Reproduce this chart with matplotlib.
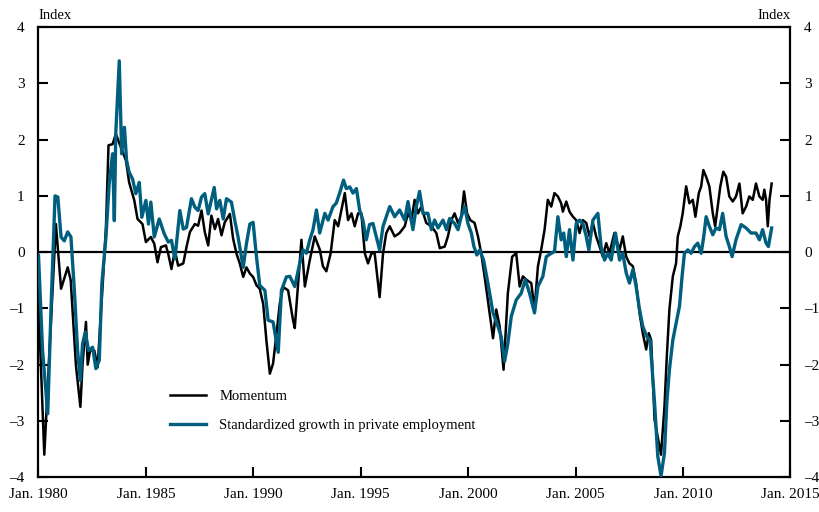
import matplotlib
matplotlib.use("Agg")
import matplotlib.pyplot as plt

# Momentum index (dates as fractional years)
mom_dates = [1980.0, 1980.27, 1980.81, 1981.05, 1981.36, 1981.5, 1981.74, 1981.95, 1982.05,
             1982.21, 1982.29, 1982.4, 1982.6, 1982.75, 1983.0, 1983.14, 1983.26, 1983.45,
             1983.6, 1983.84, 1984.07, 1984.22, 1984.46, 1984.61, 1984.84, 1985.0, 1985.23,
             1985.39, 1985.54, 1985.7, 1985.93,
             1986.04, 1986.19, 1986.35, 1986.5, 1986.74, 1986.89, 1987.05, 1987.28, 1987.43,
             1987.59, 1987.74, 1987.9, 1988.05, 1988.21, 1988.36, 1988.52, 1988.67, 1988.91,
             1989.06, 1989.22, 1989.37, 1989.53, 1989.68, 1989.84, 1989.99, 1990.15, 1990.3,
             1990.46, 1990.61, 1990.77, 1990.92, 1991.08, 1991.23, 1991.39, 1991.62, 1991.85,
             1991.93, 1992.24, 1992.4, 1992.63, 1992.86, 1993.1, 1993.24, 1993.4, 1993.6,
             1993.79, 1993.95, 1994.1, 1994.26, 1994.41, 1994.57, 1994.72, 1994.88, 1995.03,
             1995.19, 1995.34, 1995.5, 1995.65, 1995.88,
             1996.04, 1996.19, 1996.35, 1996.58, 1996.81, 1997.05, 1997.2, 1997.36, 1997.51,
             1997.67, 1997.82, 1998.05, 1998.29, 1998.52, 1998.68, 1998.91, 1999.06, 1999.22,
             1999.37, 1999.53, 1999.68, 1999.81, 1999.95, 2000.1, 2000.3, 2000.46, 2000.61,
             2000.81, 2001.0, 2001.16, 2001.31, 2001.47, 2001.65, 2001.85, 2002.05, 2002.24,
             2002.4, 2002.55, 2002.71, 2002.94, 2003.09, 2003.25, 2003.4, 2003.56, 2003.71,
             2003.87, 2004.02, 2004.18, 2004.33,
             2004.41, 2004.57, 2004.72, 2004.88, 2005.03, 2005.19, 2005.34, 2005.5, 2005.65,
             2005.81, 2005.96, 2006.12, 2006.27, 2006.43, 2006.58, 2006.81, 2007.05, 2007.2,
             2007.36, 2007.51, 2007.67, 2007.82, 2007.98, 2008.13, 2008.29, 2008.41, 2008.52,
             2008.68, 2008.91, 2008.98, 2009.14, 2009.25, 2009.37, 2009.53, 2009.68, 2009.76,
             2009.88, 2009.99, 2010.15, 2010.3, 2010.46, 2010.58, 2010.74, 2010.85, 2010.95,
             2011.08, 2011.23, 2011.39, 2011.5, 2011.62, 2011.74, 2011.88, 2012.01, 2012.16,
             2012.32, 2012.47, 2012.63, 2012.78, 2012.94, 2013.09, 2013.25, 2013.4, 2013.56,
             2013.71, 2013.79, 2013.87, 2013.95, 2014.03, 2014.13]
mom_values = [-0.9, -3.6, 0.5, -0.65, -0.27, -0.5, -2.0, -2.75, -2.0,
              -1.24, -2.0, -1.75, -1.75, -2.05, -0.5, 0.44, 1.9, 1.92,
              2.1, 1.86, 1.63, 1.24, 0.92, 0.59, 0.5, 0.18, 0.27,
              0.15, -0.18, 0.09, 0.12,
              -0.03, -0.3, 0.03, -0.24, -0.2, 0.09, 0.36, 0.5, 0.47,
              0.74, 0.36, 0.12, 0.65, 0.41, 0.59, 0.3, 0.53, 0.68,
              0.24, -0.03, -0.2, -0.44, -0.27, -0.38, -0.44, -0.59, -0.65,
              -0.92, -1.57, -2.16, -1.98, -1.45, -0.92, -0.62, -0.68, -1.21,
              -1.35, 0.22, -0.61, -0.14, 0.28, 0.04, -0.25, -0.34, -0.02,
              0.57, 0.46, 0.75, 1.05, 0.57, 0.69, 0.46, 0.69, 0.69,
              -0.02, -0.2, -0.02, -0.02, -0.8,
              -0.02, 0.34, 0.46, 0.28, 0.34, 0.46, 0.69, 0.57, 0.93,
              0.69, 0.81, 0.52, 0.46, 0.34, 0.07, 0.1, 0.28, 0.57,
              0.69, 0.52, 0.63, 1.08, 0.69, 0.57, 0.52, 0.28, -0.02,
              -0.55, -1.08, -1.53, -1.02, -1.32, -2.09, -0.73, -0.08, -0.02,
              -0.61, -0.43, -0.49, -0.55, -1.02, -0.25, 0.04, 0.4, 0.93,
              0.81, 1.05, 0.99, 0.87,
              0.72, 0.9, 0.72, 0.63, 0.57, 0.34, 0.57, 0.52, 0.28,
              0.52, 0.28, 0.1, -0.08, 0.16, -0.02, 0.34, 0.04, 0.28,
              -0.08, -0.2, -0.25, -0.55, -1.08, -1.44, -1.73, -1.44, -1.56,
              -2.98, -3.45, -3.6, -2.75, -1.85, -1.02, -0.43, -0.2, 0.28,
              0.46, 0.69, 1.17, 0.87, 0.93, 0.63, 1.05, 1.17, 1.46,
              1.34, 1.17, 0.69, 0.46, 0.81, 1.17, 1.43, 1.34, 0.99,
              0.9, 0.99, 1.22, 0.69, 0.81, 0.99, 0.93, 1.22, 0.99,
              0.93, 1.11, 0.93, 0.46, 0.93, 1.22]

# Standardized growth in private employment
emp_dates = [1980.0, 1980.19, 1980.43, 1980.58, 1980.77, 1980.9, 1981.05, 1981.2, 1981.36,
             1981.51, 1981.67, 1981.82, 1981.95, 1982.05, 1982.18, 1982.33, 1982.52, 1982.67,
             1982.83, 1982.95, 1983.14, 1983.29, 1983.45, 1983.53, 1983.6, 1983.76, 1983.87,
             1984.0, 1984.1, 1984.22, 1984.38, 1984.53, 1984.69, 1984.81, 1985.0, 1985.12,
             1985.23, 1985.39, 1985.62, 1985.85,
             1986.04, 1986.19, 1986.35, 1986.58, 1986.74, 1986.89, 1987.12, 1987.28, 1987.43,
             1987.59, 1987.74, 1987.9, 1988.18, 1988.29, 1988.44, 1988.6, 1988.75, 1988.98,
             1989.14, 1989.29, 1989.53, 1989.68, 1989.84, 1989.99, 1990.15, 1990.3, 1990.54,
             1990.69, 1990.92, 1991.16, 1991.31, 1991.54, 1991.7, 1991.93,
             1992.16, 1992.32, 1992.47, 1992.63, 1992.78, 1992.94, 1993.09, 1993.33, 1993.48,
             1993.71, 1993.86, 1994.02, 1994.2, 1994.33, 1994.49, 1994.64, 1994.8, 1994.95,
             1995.1, 1995.26, 1995.41, 1995.57, 1995.72, 1995.88,
             1996.04, 1996.19, 1996.35, 1996.58, 1996.81, 1997.05, 1997.2, 1997.43, 1997.59,
             1997.74, 1997.9, 1998.13, 1998.29, 1998.44, 1998.6, 1998.83, 1998.99, 1999.14,
             1999.37, 1999.53, 1999.68, 1999.84, 1999.99, 2000.15, 2000.27, 2000.41, 2000.54,
             2000.72, 2000.92, 2001.16, 2001.39, 2001.54, 2001.7, 2001.85, 2002.01, 2002.24,
             2002.47, 2002.66, 2002.86, 2003.09, 2003.25, 2003.48, 2003.64, 2003.87, 2004.02,
             2004.18, 2004.33,
             2004.45, 2004.57, 2004.72, 2004.88, 2005.03, 2005.19, 2005.34, 2005.5, 2005.62,
             2005.81, 2006.04, 2006.19, 2006.35, 2006.5, 2006.66, 2006.86, 2007.05, 2007.2,
             2007.36, 2007.51, 2007.67, 2007.82, 2007.98, 2008.13, 2008.32, 2008.47, 2008.68,
             2008.83, 2008.98, 2009.14, 2009.25, 2009.37, 2009.53, 2009.68, 2009.84, 2009.96,
             2010.07, 2010.23, 2010.38, 2010.54, 2010.69, 2010.85, 2010.97, 2011.08, 2011.23,
             2011.39, 2011.54, 2011.7, 2011.85, 2012.01, 2012.16, 2012.29, 2012.47, 2012.71,
             2012.94, 2013.17, 2013.4, 2013.56, 2013.71, 2013.87, 2013.98, 2014.13]
emp_values = [-0.06, -1.75, -2.87, -1.04, 1.0, 0.98, 0.27, 0.2, 0.36,
              0.27, -0.68, -1.75, -2.28, -1.63, -1.42, -1.75, -1.69, -2.07,
              -1.92, -0.56, 0.27, 1.21, 1.75, 0.56, 2.13, 3.4, 1.75,
              2.22, 1.63, 1.42, 1.3, 1.04, 1.24, 0.62, 0.92, 0.5,
              0.89, 0.27, 0.59, 0.33,
              0.18, 0.21, -0.12, 0.74, 0.41, 0.44, 0.95, 0.8, 0.74,
              0.98, 1.04, 0.68, 1.15, 0.77, 0.92, 0.59, 0.95, 0.89,
              0.56, 0.27, -0.27, 0.15, 0.5, 0.53, -0.09, -0.59, -0.68,
              -1.21, -1.24, -1.78, -0.68, -0.44, -0.43, -0.61,
              -0.2, 0.04, -0.02, 0.22, 0.4, 0.75, 0.34, 0.69, 0.57,
              0.81, 0.87, 1.05, 1.28, 1.13, 1.16, 1.05, 1.13, 0.75,
              0.57, 0.22, 0.49, 0.51, 0.28, 0.04,
              0.46, 0.63, 0.81, 0.63, 0.75, 0.57, 0.9, 0.4, 0.81,
              1.08, 0.69, 0.69, 0.4, 0.57, 0.43, 0.57, 0.4, 0.6,
              0.51, 0.4, 0.63, 0.81, 0.51, 0.34, 0.1, -0.05, 0.04,
              -0.14, -0.55, -1.08, -1.32, -1.5, -1.94, -1.62, -1.14, -0.85,
              -0.73, -0.49, -0.73, -1.08, -0.61, -0.43, -0.08, -0.02, 0.01,
              0.63, 0.22,
              0.34, -0.08, 0.4, -0.14, 0.51, 0.57, 0.51, 0.28, 0.04,
              0.57, 0.69, 0.1, -0.14, -0.02, -0.14, 0.34, -0.14, -0.02,
              -0.37, -0.55, -0.31, -0.61, -1.02, -1.32, -1.5, -1.56, -2.68,
              -3.63, -3.98, -3.57, -2.68, -2.09, -1.56, -1.27, -0.96, -0.43,
              -0.02, 0.04, -0.02, 0.1, 0.16, -0.02, 0.28, 0.63, 0.46,
              0.31, 0.43, 0.4, 0.69, 0.28, 0.1, -0.08, 0.22, 0.49,
              0.43, 0.34, 0.34, 0.22, 0.4, 0.16, 0.1, 0.43]

year_ticks = [1980, 1985, 1990, 1995, 2000, 2005, 2010, 2015]
year_labels = [f"Jan. {y}" for y in year_ticks]
y_ticks = [-4, -3, -2, -1, 0, 1, 2, 3, 4]

TEAL = "#005f7f"
plt.rcParams["font.family"] = ["Liberation Serif", "DejaVu Serif"]

fig = plt.figure(figsize=(8.19, 5.12), dpi=100)
ax = fig.add_axes([0.047, 0.068, 0.918, 0.879])

ax.axhline(0, color="black", lw=1.6, zorder=1)
ax.plot(mom_dates, mom_values, color="black", lw=1.8, label="Momentum", zorder=2)
ax.plot(emp_dates, emp_values, color=TEAL, lw=2.4,
        label="Standardized growth in private employment", zorder=3)

ax.set_xlim(1980, 2015)
ax.set_ylim(-4, 4)
ax.set_xticks(year_ticks)
ax.set_xticklabels(year_labels)
ax.set_yticks(y_ticks)
ax.set_yticklabels([str(v).replace("-", "\u2013") for v in y_ticks])

for s in ax.spines.values():
    s.set_linewidth(1.6)
ax.tick_params(axis="x", direction="in", length=7, width=1.5, labelsize=11, pad=8)
ax.tick_params(axis="y", direction="in", length=7, width=1.5, labelsize=11,
               left=True, right=True, labelleft=True, labelright=True, pad=10)

ax.text(0.0, 1.012, "Index", transform=ax.transAxes, ha="left", va="bottom", fontsize=10.5)
ax.text(1.0, 1.012, "Index", transform=ax.transAxes, ha="right", va="bottom", fontsize=10.5)

ax.legend(loc="lower left", bbox_to_anchor=(0.157, 0.072), frameon=False, fontsize=10.5,
          handlelength=2.5, labelspacing=1.05, handletextpad=0.9)

fig.savefig("out.png", dpi=100)
